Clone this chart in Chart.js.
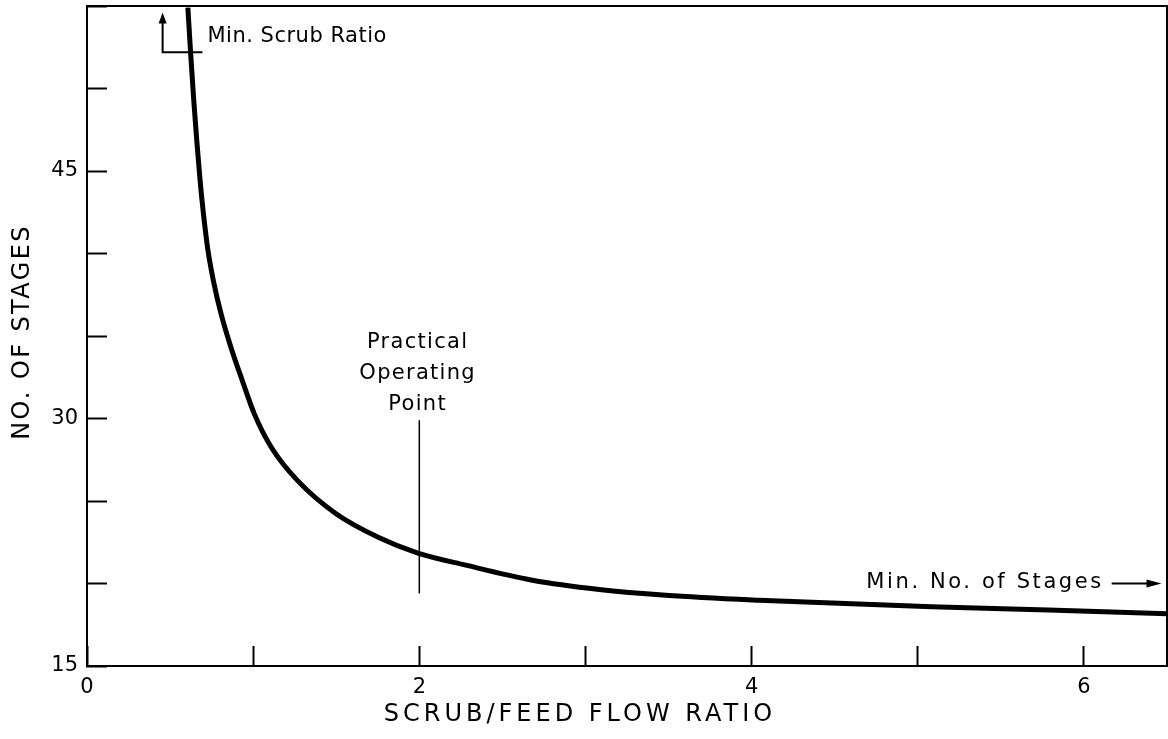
<!DOCTYPE html>
<html>
<head>
<meta charset="utf-8">
<script src="https://cdn.jsdelivr.net/npm/chart.js@4"></script>
<style>
body{margin:0;background:#fff;}
#wrap{width:1168px;height:739px;}
</style>
</head>
<body>
<div id="wrap"><canvas id="grafico"></canvas></div>
<script>
// DADOS
const razao = [0.607,0.625,0.643,0.661,0.681,0.701,0.726,0.761,0.807,0.867,0.935,1.007,1.109,1.266,1.499,1.759,1.987,2.28,2.681,3.082,3.483,4.044,5.084,5.788,6.5];
const estagios = [54.9,51.94,49.22,46.8,44.38,42.39,40.33,38.34,36.34,34.29,32.29,30.28,28.26,26.25,24.23,22.77,21.86,21.11,20.2,19.64,19.29,18.99,18.59,18.39,18.17];
const xLabels = [0,2,4,6];
const yLabels = [15,30,45];

const fonte = "'DejaVu Sans', sans-serif";

// texto com espaçamento
function texto(ctx, t, x, y, size, ls, align){
ctx.font = size + "px " + fonte;
ctx.letterSpacing = ls + "px";
ctx.textAlign = align;
ctx.textBaseline = "middle";
ctx.fillText(t, x, y);
ctx.letterSpacing = "0px";
}

// anotações, moldura, títulos
const extras = {
id:"extras",
afterDraw(chart){
const ctx = chart.ctx, x = chart.scales.x, y = chart.scales.y, a = chart.chartArea;
ctx.save();
ctx.strokeStyle = "#000";
ctx.fillStyle = "#000";
// moldura topo e direita
ctx.lineWidth = 2;
ctx.beginPath();
ctx.moveTo(a.left, a.top); ctx.lineTo(a.right, a.top); ctx.lineTo(a.right, a.bottom);
ctx.stroke();

// títulos dos eixos
texto(ctx, "SCRUB/FEED FLOW RATIO", 580, 715, 24, 4, "center");
ctx.save();
ctx.translate(23, 332);
ctx.rotate(-Math.PI/2);
texto(ctx, "NO. OF STAGES", 0, 0, 24, 2.4, "center");
ctx.restore();

// Min. Scrub Ratio
ctx.lineWidth = 2;
ctx.beginPath();
ctx.moveTo(x.getPixelForValue(0.695), y.getPixelForValue(52.2));
ctx.lineTo(x.getPixelForValue(0.455), y.getPixelForValue(52.2));
ctx.lineTo(x.getPixelForValue(0.455), y.getPixelForValue(54.2));
ctx.stroke();
let ax = x.getPixelForValue(0.455), ay = y.getPixelForValue(54.6);
ctx.beginPath();
ctx.moveTo(ax, ay); ctx.lineTo(ax-4, ay+11); ctx.lineTo(ax+4, ay+11); ctx.closePath();
ctx.fill();
texto(ctx, "Min. Scrub Ratio", x.getPixelForValue(0.725), y.getPixelForValue(53.15), 21, 0.5, "left");

// Practical Operating Point
ctx.lineWidth = 1.5;
ctx.beginPath();
ctx.moveTo(x.getPixelForValue(2), y.getPixelForValue(29.9));
ctx.lineTo(x.getPixelForValue(2), y.getPixelForValue(19.4));
ctx.stroke();
texto(ctx, "Practical", x.getPixelForValue(1.99), y.getPixelForValue(34.6), 21, 1.3, "center");
texto(ctx, "Operating", x.getPixelForValue(1.99), y.getPixelForValue(32.7), 21, 1.3, "center");
texto(ctx, "Point", x.getPixelForValue(1.99), y.getPixelForValue(30.85), 21, 1.3, "center");

// Min. No. of Stages
texto(ctx, "Min. No. of Stages", x.getPixelForValue(6.12), y.getPixelForValue(20.05), 21, 2.6, "right");
ctx.lineWidth = 2;
let sy = y.getPixelForValue(20.0), sx = x.getPixelForValue(6.467);
ctx.beginPath();
ctx.moveTo(x.getPixelForValue(6.167), sy); ctx.lineTo(sx-10, sy);
ctx.stroke();
ctx.beginPath();
ctx.moveTo(sx, sy); ctx.lineTo(sx-15, sy-4); ctx.lineTo(sx-15, sy+4); ctx.closePath();
ctx.fill();
ctx.restore();
}
};

/* =======================
   GRÁFICO
======================= */
new Chart(document.getElementById("grafico"),{
type:"scatter",
data:{
datasets:[{
data: razao.map((v,i)=>({x:v, y:estagios[i]})),
showLine:true,
borderColor:"#000",
borderWidth:5,
pointRadius:0,
cubicInterpolationMode:"monotone"
}]
},
options:{
responsive:true,
maintainAspectRatio:false,
animation:false,
layout:{padding:{top:6,right:1,left:0,bottom:0}},
plugins:{legend:{display:false},tooltip:{enabled:false}},
scales:{
x:{
type:"linear",min:0,max:6.5,
afterFit:s=>{s.height=73; s.paddingLeft=0; s.paddingRight=0;},
grid:{drawOnChartArea:false,tickLength:-20,tickWidth:2,color:"#000"},
border:{color:"#000",width:2},
ticks:{stepSize:1,padding:29,color:"#000",font:{family:fonte,size:21},
callback:v=>xLabels.includes(v)?String(v):""}
},
y:{
min:15,max:55,
afterFit:s=>{s.width=87; s.paddingTop=0; s.paddingBottom=0;},
grid:{drawOnChartArea:false,tickLength:-20,tickWidth:2,color:"#000"},
border:{color:"#000",width:2},
ticks:{stepSize:5,padding:29,color:"#000",font:{family:fonte,size:21},
callback:v=>yLabels.includes(v)?String(v):""}
}
}
},
plugins:[extras]
});
</script>
</body>
</html>
